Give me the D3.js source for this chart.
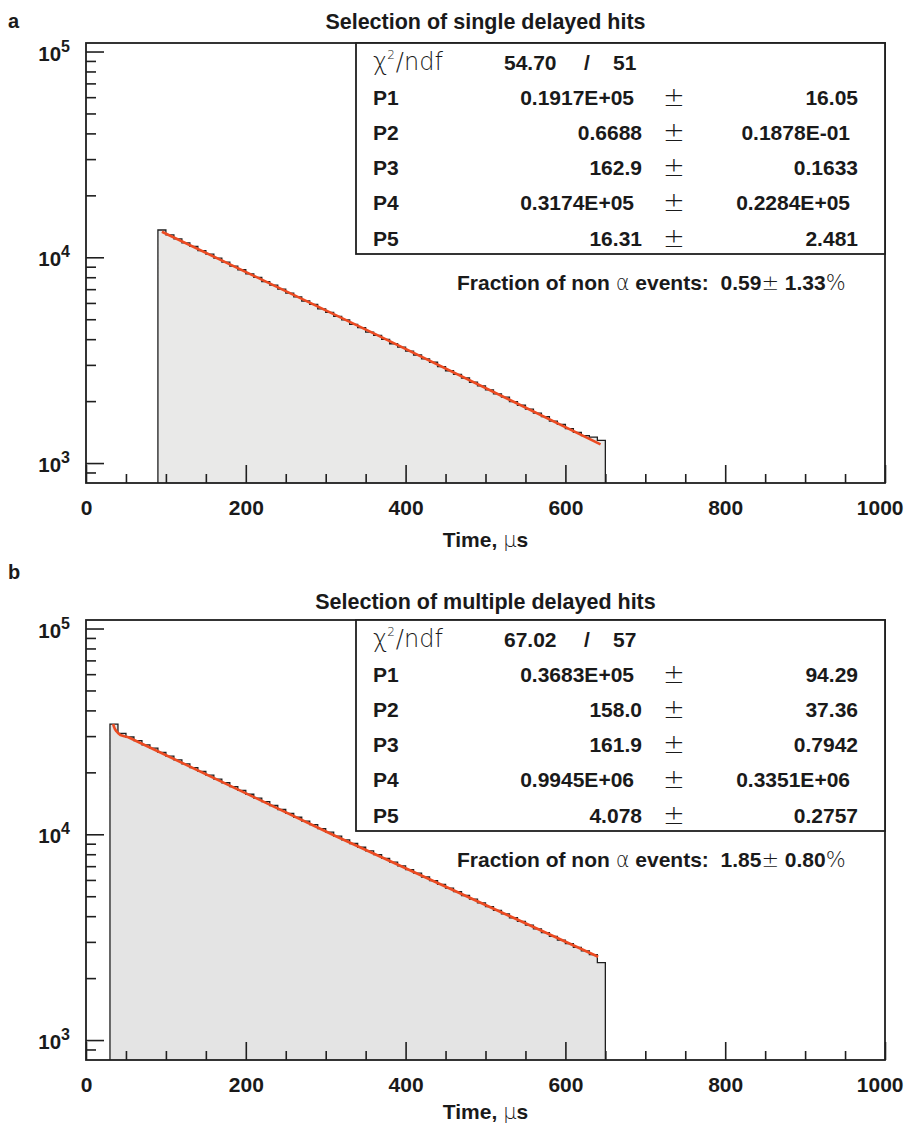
<!DOCTYPE html>
<html>
<head>
<meta charset="utf-8">
<script src="https://cdn.jsdelivr.net/npm/d3@7"></script>
<style>
body { margin: 0; background: #fff; }
svg text { font-family: "Liberation Sans", Arial, Helvetica, sans-serif; font-weight: bold; fill: #1a1a1a; white-space: pre; }
svg .thin { font-family: "DejaVu Sans", sans-serif; font-weight: 200; }
</style>
</head>
<body>
<div id="chart"></div>
<script>
// Axis settings shared by both panels
const xTickValues = [0, 200, 400, 600, 800, 1000];
const yMajorPowers = [3, 4, 5];
const binWidth = 10;

// Panel a: single delayed hits (bins of 10 us from 90 to 650)
const firstBinA = 90;
const countsA = [13570, 12850, 12300, 11750, 11300, 10780, 10350, 9900, 9480, 9050,
    8700, 8300, 7980, 7620, 7320, 7000, 6700, 6420, 6130, 5900,
    5620, 5400, 5160, 4960, 4720, 4550, 4330, 4170, 3990, 3800,
    3660, 3500, 3350, 3210, 3090, 2940, 2810, 2700, 2590, 2470,
    2370, 2270, 2170, 2090, 1990, 1910, 1830, 1750, 1680, 1600,
    1540, 1470, 1410, 1360, 1337, 1289];
// fit curve: [time, counts]
const fitA = [[95, 13310], [364, 4200], [644, 1233]];
const chi2A = ["54.70", "51"];
const parValA = ["0.1917E+05", "0.6688", "162.9", "0.3174E+05", "16.31"];
const parErrA = ["16.05", "0.1878E-01", "0.1633", "0.2284E+05", "2.481"];
const fracA = ["0.59", "1.33"];

// Panel b: multiple delayed hits (bins of 10 us from 30 to 650)
const firstBinB = 30;
const countsB = [34310, 30900, 29700, 28500, 27200, 26200, 25000, 24000, 23000, 22000,
    21100, 20200, 19400, 18550, 17800, 17050, 16350, 15650, 15000, 14400,
    13800, 13200, 12650, 12100, 11600, 11150, 10650, 10250, 9800, 9400,
    9020, 8650, 8300, 7960, 7640, 7330, 7030, 6740, 6470, 6200,
    5950, 5710, 5480, 5260, 5040, 4840, 4640, 4450, 4270, 4100,
    3930, 3770, 3620, 3470, 3330, 3190, 3060, 2940, 2820, 2710,
    2600, 2380];
const fitB = [[34, 34310], [35, 33300], [36, 32600], [38, 31700], [40, 31100], [43, 30400],
    [48, 29950], [53, 29630], [309.5, 9922], [641, 2541]];
const chi2B = ["67.02", "57"];
const parValB = ["0.3683E+05", "158.0", "161.9", "0.9945E+06", "4.078"];
const parErrB = ["94.29", "37.36", "0.7942", "0.3351E+06", "0.2757"];
const fracB = ["1.85", "0.80"];

const parNames = ["P1", "P2", "P3", "P4", "P5"];

const W = 905, H = 1126;
const plotW = 799, plotH = 440;
const ink = "#1f1f1f";
const fitColor = "#ec4b22";

const svg = d3.select("#chart")
    .append("svg")
    .attr("width", W)
    .attr("height", H);

svg.append("rect").attr("width", W).attr("height", H).attr("fill", "#fff");

const xScale = d3.scaleLinear().domain([0, 1000]).range([0, plotW]);
const yScale = d3.scaleLog().domain([800, 110000]).range([plotH, 0]);

function drawPanel(o) {
    svg.append("text")
        .attr("x", 8).attr("y", o.letterY)
        .attr("font-size", 20)
        .text(o.letter);

    const g = svg.append("g")
        .attr("transform", `translate(86,${o.top})`);

    g.append("text")
        .attr("x", plotW / 2).attr("y", o.titleDy)
        .attr("text-anchor", "middle")
        .attr("font-size", 21.5)
        .text(o.title);

    // histogram (step outline closed down to the bottom of the frame)
    const pts = [[o.firstBin, yScale.domain()[0]]];
    o.counts.forEach((c, i) => pts.push([o.firstBin + i * binWidth, c]));
    const end = o.firstBin + o.counts.length * binWidth;
    pts.push([end, o.counts[o.counts.length - 1]]);
    pts.push([end, yScale.domain()[0]]);

    const step = d3.line()
        .x(d => xScale(d[0]))
        .y(d => yScale(d[1]))
        .curve(d3.curveStepAfter);

    g.append("path")
        .datum(pts)
        .attr("fill", o.fill)
        .attr("stroke", ink)
        .attr("stroke-width", 1.3)
        .attr("d", step);

    // fit curve (straight pieces on the log scale)
    const fitLine = d3.line()
        .x(d => xScale(d[0]))
        .y(d => yScale(d[1]));

    g.append("path")
        .datum(o.fit)
        .attr("fill", "none")
        .attr("stroke", fitColor)
        .attr("stroke-width", 2.6)
        .attr("stroke-linejoin", "round")
        .attr("d", fitLine);

    // x axis: ticks point inward
    const minorX = d3.range(50, 1000, 50).filter(v => v % 200 !== 0);
    const xMinor = g.append("g")
        .attr("transform", `translate(0,${plotH})`)
        .call(d3.axisBottom(xScale).tickValues(minorX).tickSizeInner(-9).tickSizeOuter(0).tickFormat(""));
    const xMajor = g.append("g")
        .attr("transform", `translate(0,${plotH})`)
        .call(d3.axisBottom(xScale).tickValues(xTickValues).tickSizeInner(-18).tickSizeOuter(0)
            .tickPadding(17).tickFormat(d3.format("d")));
    xMajor.selectAll("text")
        .attr("font-size", 21)
        .attr("font-family", null)
        .attr("fill", ink);
    // last label sits against the right edge of the page
    xMajor.selectAll("text")
        .filter(d => d === 1000)
        .attr("text-anchor", "end")
        .attr("x", 18);

    // y axis: log decades with minor ticks 2..9
    const minorY = [];
    [2, 3, 4].forEach(p => d3.range(2, 10).forEach(k => {
        const v = k * Math.pow(10, p);
        if (v > yScale.domain()[0] && v < yScale.domain()[1]) minorY.push(v);
    }));
    const yMinor = g.append("g")
        .call(d3.axisLeft(yScale).tickValues(minorY).tickSizeInner(-10).tickSizeOuter(0).tickFormat(""));
    const yMajor = g.append("g")
        .call(d3.axisLeft(yScale).tickValues(yMajorPowers.map(p => Math.pow(10, p))).tickSizeInner(-18).tickSizeOuter(0).tickFormat(""));

    [xMinor, xMajor, yMinor, yMajor].forEach(a => {
        a.select(".domain").remove();
        a.selectAll("line").attr("stroke", ink).attr("stroke-width", 1.6);
    });

    yMajorPowers.forEach(p => {
        const t = g.append("text")
            .attr("x", -16)
            .attr("y", yScale(Math.pow(10, p)) + 9)
            .attr("text-anchor", "end")
            .attr("font-size", 20.5);
        t.append("tspan").text("10");
        t.append("tspan").attr("dy", -9).attr("font-size", 16).text(p);
    });

    // frame
    g.append("rect")
        .attr("width", plotW).attr("height", plotH)
        .attr("fill", "none")
        .attr("stroke", ink)
        .attr("stroke-width", 1.8);

    // x axis title
    const xt = g.append("text")
        .attr("x", plotW / 2).attr("y", plotH + o.xTitleDy)
        .attr("text-anchor", "middle")
        .attr("font-size", 21);
    xt.append("tspan").text("Time, ");
    xt.append("tspan").attr("class", "thin").attr("font-size", 21).text("\u03bc");
    xt.append("tspan").text("s");

    // fit statistics box
    const bx = 270, bh = 211;
    const box = g.append("g").attr("transform", `translate(${bx},0)`);
    box.append("rect")
        .attr("width", plotW - bx).attr("height", bh)
        .attr("fill", "#fff")
        .attr("stroke", ink)
        .attr("stroke-width", 1.8);

    const rowY = i => 26.5 + 35.2 * i;
    const lx = 17;

    const chi = box.append("text")
        .attr("class", "thin")
        .attr("x", lx).attr("y", rowY(0))
        .attr("font-size", 24);
    chi.append("tspan").text("\u03c7");
    chi.append("tspan").attr("dy", -11).attr("font-size", 12).text("2");
    chi.append("tspan").attr("dy", 11).attr("dx", 1).text("/ndf");

    box.append("text").attr("x", 148).attr("y", rowY(0)).attr("font-size", 21).text(o.chi2[0]);
    box.append("text").attr("x", 228).attr("y", rowY(0)).attr("font-size", 21).text("/");
    box.append("text").attr("x", 257).attr("y", rowY(0)).attr("font-size", 21).text(o.chi2[1]);

    parNames.forEach((name, i) => {
        const y = rowY(i + 1);
        box.append("text").attr("x", lx).attr("y", y).attr("font-size", 21).text(name);
        const ve = o.parVal[i].includes("E");
        box.append("text")
            .attr("x", ve ? 278 : 286).attr("y", y)
            .attr("text-anchor", "end").attr("font-size", 21)
            .text(o.parVal[i]);
        box.append("text")
            .attr("class", "thin")
            .attr("x", 318).attr("y", y + 1)
            .attr("text-anchor", "middle").attr("font-size", 26)
            .text("\u00b1");
        const ee = o.parErr[i].includes("E");
        box.append("text")
            .attr("x", ee ? 494 : 502).attr("y", y)
            .attr("text-anchor", "end").attr("font-size", 21)
            .text(o.parErr[i]);
    });

    // fraction of non-alpha events
    const fr = g.append("text")
        .attr("x", 371).attr("y", 247)
        .attr("font-size", 21);
    fr.append("tspan").text("Fraction of non ");
    fr.append("tspan").attr("class", "thin").text("\u03b1");
    fr.append("tspan").text(" events:\u00a0\u00a0" + o.frac[0]);
    fr.append("tspan").attr("class", "thin").text("\u00b1");
    fr.append("tspan").text("\u00a0" + o.frac[1]);
    fr.append("tspan").attr("class", "thin").text("%");
}

drawPanel({
    letter: "a", letterY: 28, top: 43, titleDy: -14, xTitleDy: 64,
    title: "Selection of single delayed hits",
    firstBin: firstBinA, counts: countsA, fit: fitA, fill: "#e9e9e8",
    chi2: chi2A, parVal: parValA, parErr: parErrA, frac: fracA
});

drawPanel({
    letter: "b", letterY: 579, top: 620, titleDy: -11, xTitleDy: 59,
    title: "Selection of multiple delayed hits",
    firstBin: firstBinB, counts: countsB, fit: fitB, fill: "#e4e4e4",
    chi2: chi2B, parVal: parValB, parErr: parErrB, frac: fracB
});
</script>
</body>
</html>
